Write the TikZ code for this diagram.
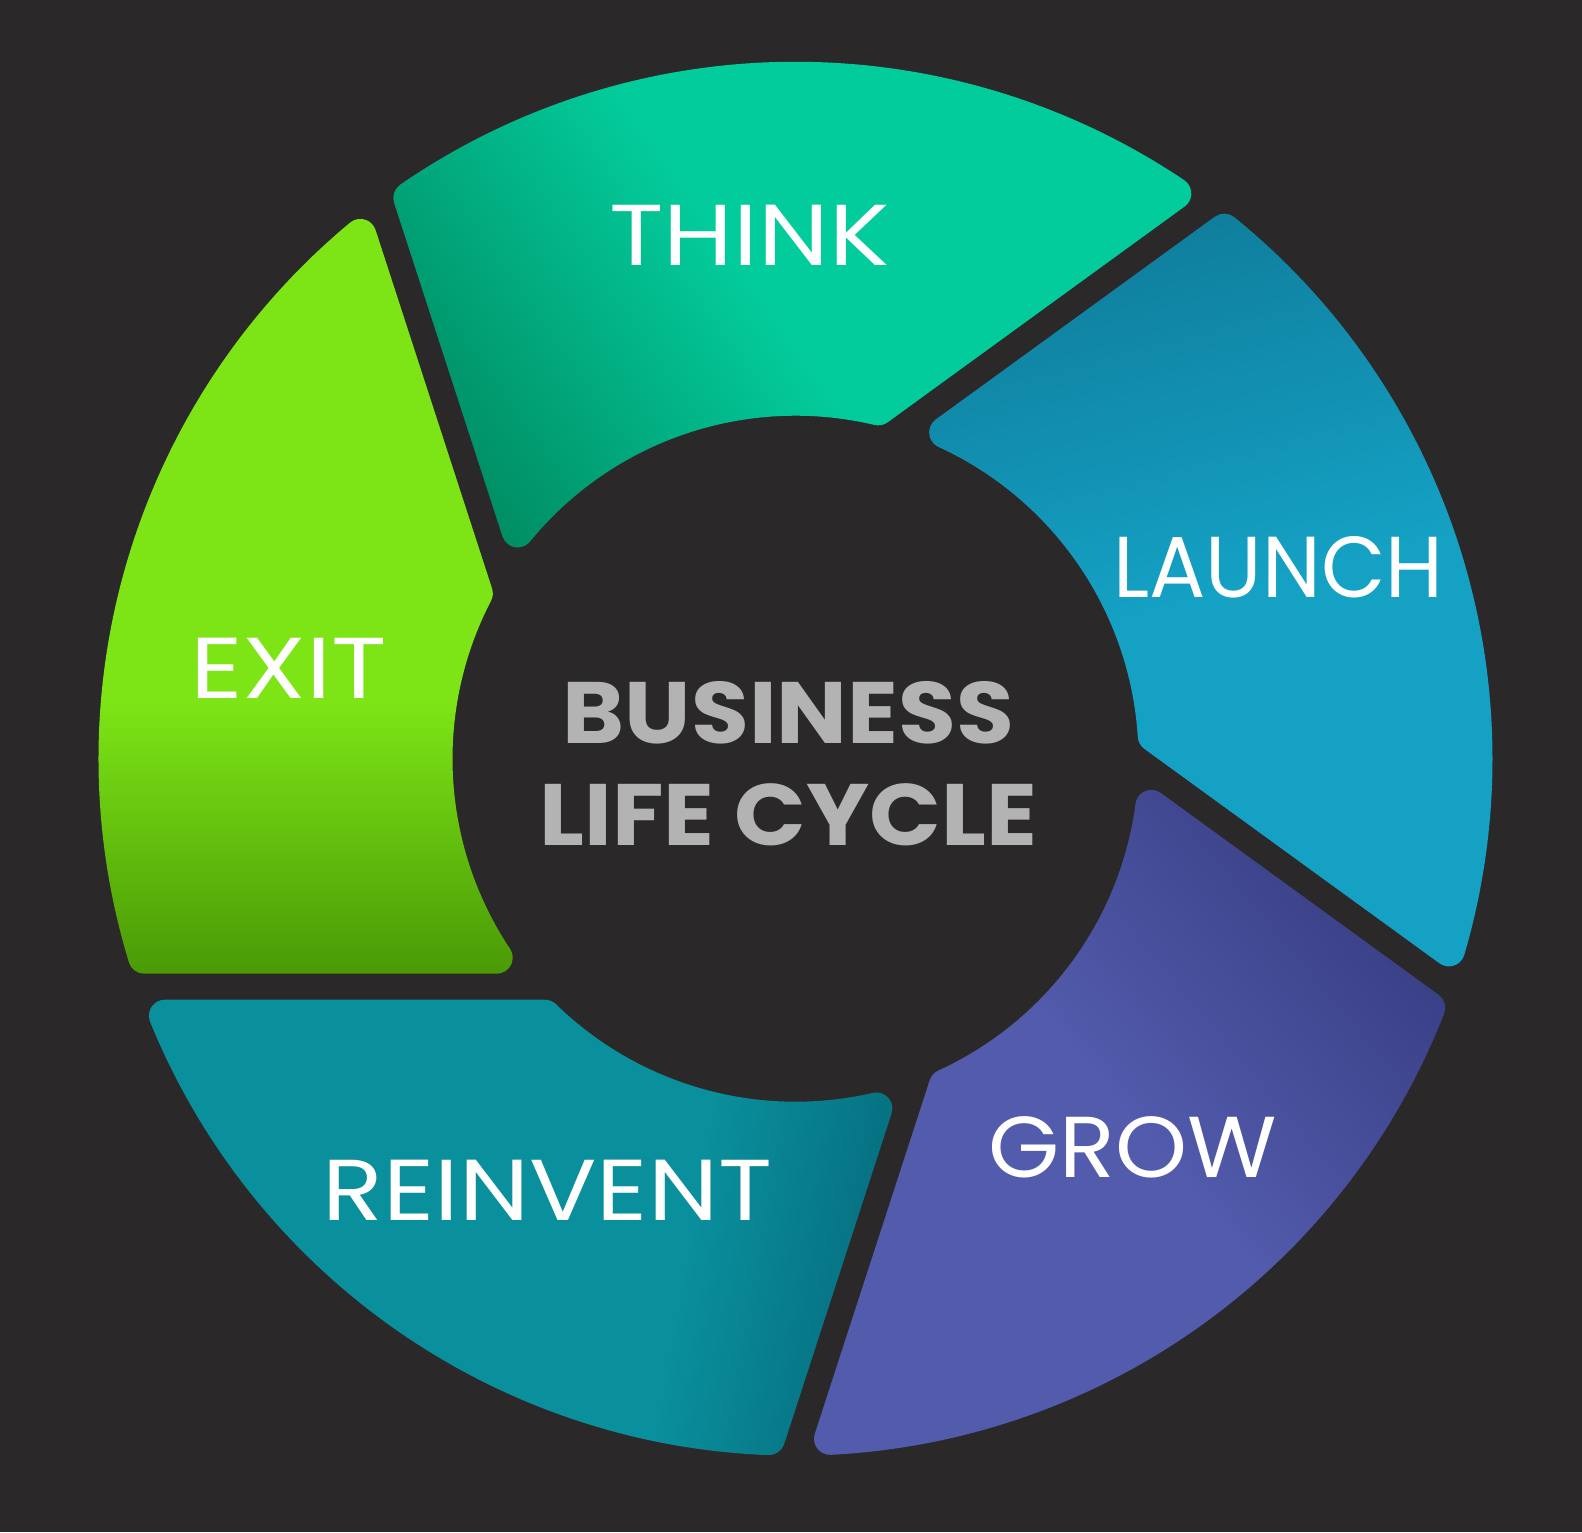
\documentclass[tikz,border=0pt]{standalone}
\usepackage{fontspec}
\setmainfont{Poppins}
\usepackage{xcolor}
\usepackage{tikz}
\usetikzlibrary{positioning,calc}

\definecolor{bgdark}{HTML}{2A2829}
\definecolor{titlegray}{HTML}{B3B3B3}
\definecolor{exitc}{HTML}{7DE516}
\definecolor{exitdark}{HTML}{4A9A06}
\definecolor{thinkc}{HTML}{03CC9C}
\definecolor{thinkdark}{HTML}{007E56}
\definecolor{launchc}{HTML}{14A1C4}
\definecolor{launchdark}{HTML}{0F7896}
\definecolor{growc}{HTML}{525BAC}
\definecolor{growdark}{HTML}{33397C}
\definecolor{reinventc}{HTML}{0A8F9C}
\definecolor{reinventdark}{HTML}{05687A}

% dark side of every shading is on the right, turned by shading angle
\pgfdeclarehorizontalshading{exitshade}{100bp}{color(0bp)=(exitc); color(57bp)=(exitc); color(75bp)=(exitdark); color(100bp)=(exitdark)}
\pgfdeclarehorizontalshading{thinkshade}{100bp}{color(0bp)=(thinkc); color(52bp)=(thinkc); color(84bp)=(thinkdark); color(100bp)=(thinkdark)}
\pgfdeclarehorizontalshading{launchshade}{100bp}{color(0bp)=(launchc); color(50bp)=(launchc); color(80bp)=(launchdark); color(100bp)=(launchdark)}
\pgfdeclarehorizontalshading{growshade}{100bp}{color(0bp)=(growc); color(50bp)=(growc); color(82bp)=(growdark); color(100bp)=(growdark)}
\pgfdeclarehorizontalshading{reinventshade}{100bp}{color(0bp)=(reinventc); color(62bp)=(reinventc); color(79bp)=(reinventdark); color(100bp)=(reinventdark)}

\begin{document}
\begin{tikzpicture}[
  lbl/.style={text=white,font=\fontsize{24.6}{28}\selectfont,anchor=base,inner sep=0pt},
  ttl/.style={text=titlegray,font=\fontsize{24.8}{28}\selectfont\bfseries,anchor=base,inner sep=0pt,xscale=1.08}]
\fill[bgdark] (-7.955,-7.733) rectangle (7.865,7.587);
\useasboundingbox (-7.955,-7.733) rectangle (7.865,7.587);
% inner and outer radius, half gap, corner radius
\def\ri{3.43} \def\ro{6.97} \def\hg{0.13} \def\fr{0.16}
\pgfmathsetmacro\rin{\ri+\fr} \pgfmathsetmacro\rout{\ro-\fr}
% name / angle of first cut / offsets of both cuts / shading angle
\foreach \nm/\ta/\da/\db/\shd in {exit/180/2.28/2.23/270, think/108/2.23/2.05/215,
    launch/36/2.05/2.00/105, grow/-36/2.00/2.14/40, reinvent/-108/2.14/2.28/350} {
  \pgfmathsetmacro\tb{\ta-72}
  \pgfmathsetmacro\na{\ta+90} \pgfmathsetmacro\nb{\tb-90}
  % polar angles of the centres of the four corner arcs
  \pgfmathsetmacro\pA{\ta+asin((\da-\hg-\fr)/\rin)}
  \pgfmathsetmacro\pB{\ta+asin((\da-\hg-\fr)/\rout)}
  \pgfmathsetmacro\pC{\tb+asin((\db+\hg+\fr)/\rout)}
  \pgfmathsetmacro\pD{\tb+asin((\db+\hg+\fr)/\rin)}
  \pgfmathsetmacro\qD{\pD-180} \pgfmathsetmacro\qA{\pA-180} \pgfmathsetmacro\ea{\ta-270}
  \shade[shading=\nm shade,shading angle=\shd]
    ($(\pA:\rin)+(\na:\fr)$) -- ($(\pB:\rout)+(\na:\fr)$)
    arc[start angle=\na,end angle=\pB,radius=\fr]
    arc[start angle=\pB,end angle=\pC,radius=\ro]
    arc[start angle=\pC,end angle=\nb,radius=\fr]
    -- ($(\pD:\rin)+(\nb:\fr)$)
    arc[start angle=\nb,end angle=\qD,radius=\fr]
    arc[start angle=\pD,end angle=\pA,radius=\ri]
    arc[start angle=\qA,end angle=\ea,radius=\fr] -- cycle;
}
\node[lbl,xscale=1.165] (think) at (-0.46,4.93) {THINK};
\node[lbl,xscale=0.967] (launch) at (4.83,1.61) {LAUNCH};
\node[lbl,xscale=1.06] (grow) at (3.37,-4.19) {GROW};
\node[lbl,xscale=1.155] (reinvent) at (-2.48,-4.62) {REINVENT};
\node[lbl,xscale=1.186] (exit) at (-5.07,0.60) {EXIT};
\node[ttl] (business) at (-0.07,0.15) {BUSINESS};
\node[ttl,below=1.02cm of business.base,anchor=base] (lifecycle) {LIFE CYCLE};
\end{tikzpicture}
\end{document}
